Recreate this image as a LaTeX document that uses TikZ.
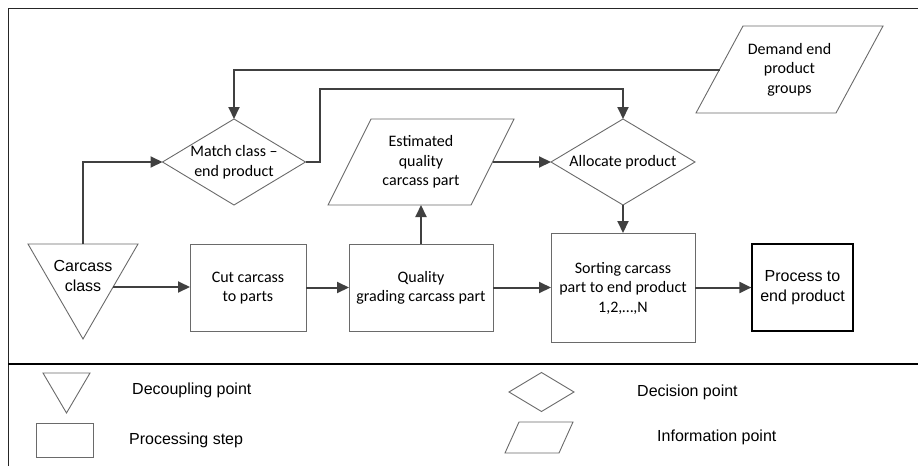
\documentclass[tikz,border=0pt]{standalone}
\usepackage{fontspec}
\setmainfont{Carlito}
\newfontfamily\arial{Liberation Sans}
\usetikzlibrary{shapes.geometric,arrows.meta,calc}
\definecolor{conn}{HTML}{404040}
\definecolor{bord}{HTML}{6A6A6A}
\tikzset{
  conn/.style={draw=conn,line width=2pt,-{Triangle[length=12pt,width=11pt]}},
  shapebox/.style={draw=bord,line width=0.9pt,inner sep=0pt,outer sep=0pt},
  outline/.style={draw=bord,line width=0.9pt},
  rectbox/.style={shapebox,rectangle},
  decide/.style={shapebox,diamond},
  ghost/.style={rectangle,inner sep=0pt,outer sep=0pt},
  txt/.style={align=center,font=\fontsize{16}{19.5}\selectfont,inner sep=0pt},
  atxt/.style={align=center,font=\arial\fontsize{16}{20}\selectfont,inner sep=0pt},
  legtxt/.style={anchor=west,font=\arial\fontsize{16}{19}\selectfont,inner sep=0pt},
}
\newcommand{\paral}[2]{\draw[outline] (#1.south west) -- ($(#1.north west)+(#2,0)$) -- (#1.north east) -- ($(#1.south east)-(#2,0)$) -- cycle;}
\newcommand{\downtri}[1]{\draw[outline] (#1.north west) -- (#1.north east) -- (#1.south) -- cycle;}
\begin{document}
\begin{tikzpicture}[x=1pt,y=-1pt]
\useasboundingbox (0,0) rectangle (918,466);
% frame
\draw[line width=1pt,color=black!85] (8,466) -- (8,8) -- (918,8);
\draw[line width=1.2pt] (8,364) -- (918,364);

% main shapes
\node[ghost,minimum width=110pt,minimum height=95pt] (tri) at (83,291.5) {};
\downtri{tri}
\node[atxt] (tritxt) at (83,276) {Carcass\\class};
\coordinate (triR) at ($(tri.north east)!0.4526!(tri.south)$);

\node[decide,minimum width=143pt,minimum height=86pt] (match) at (234,162) {};
\node[txt] (matchtxt) at (234,162) {Match class –\\end product};

\node[decide,minimum width=144pt,minimum height=86pt] (alloc) at (623,162) {};
\node[txt] (alloctxt) at (623,162) {Allocate product};

\node[ghost,minimum width=186pt,minimum height=86pt] (est) at (421,162) {};
\paral{est}{43}
\coordinate (estR) at ($(est.east)+(-21.5,0)$);
\node[txt] (esttxt) at (421,162) {Estimated\\quality\\carcass part};

\node[ghost,minimum width=187pt,minimum height=87pt] (demand) at (789.5,69.5) {};
\paral{demand}{47}
\coordinate (demandL) at ($(demand.west)+(23.5,0)$);
\node[txt] (demandtxt) at (789.5,69.5) {Demand end\\product\\groups};

\node[rectbox,minimum width=116pt,minimum height=87pt] (cut) at (248,287.5) {};
\node[txt] (cuttxt) at (248,288) {Cut carcass\\to parts};

\node[rectbox,minimum width=144pt,minimum height=87pt] (qual) at (421,287.5) {};
\node[txt] (qualtxt) at (421,288) {Quality\\grading carcass part};

\node[rectbox,minimum width=144pt,minimum height=109pt] (sort) at (623,287.5) {};
\node[txt] (sorttxt) at (623,288) {Sorting carcass\\part to end product\\1,2,…,N};

\node[rectangle,draw=black,line width=1.2pt,inner sep=0pt,minimum width=101pt,minimum height=87pt] (proc) at (802.5,287.5) {};
\node[atxt] (proctxt) at (802.5,288) {Process to\\end product};

% connectors
\draw[conn] (tri.north) |- (match.west);
\draw[conn] (match.east) -- ++(14,0) |- ($(alloc.north)+(0,-30)$) -- (alloc.north);
\draw[conn] (demandL) -| (match.north);
\draw[conn] (estR) -- (alloc.west);
\draw[conn] (qual.north) -- (est.south);
\draw[conn] (alloc.south) -- (sort.north);
\draw[conn] (triR) -- (triR -| cut.west);
\draw[conn] (cut.east) -- (qual.west);
\draw[conn] (qual.east) -- (sort.west);
\draw[conn] (sort.east) -- (proc.west);

% legend
\node[ghost,minimum width=47pt,minimum height=40pt] (ltri) at (66.5,393) {};
\downtri{ltri}
\node[legtxt] (ltritxt) at (132,390) {Decoupling point};

\node[rectbox,minimum width=57pt,minimum height=34pt] (lrect) at (64.5,440) {};
\node[legtxt] (lrecttxt) at (129,440) {Processing step};

\node[decide,minimum width=65pt,minimum height=39pt] (ldia) at (541.5,392) {};
\node[legtxt] (ldiatxt) at (637,392) {Decision point};

\node[ghost,minimum width=68pt,minimum height=31pt] (lpar) at (539,437.5) {};
\paral{lpar}{14}
\node[legtxt] (lpartxt) at (657,437) {Information point};
\end{tikzpicture}
\end{document}
